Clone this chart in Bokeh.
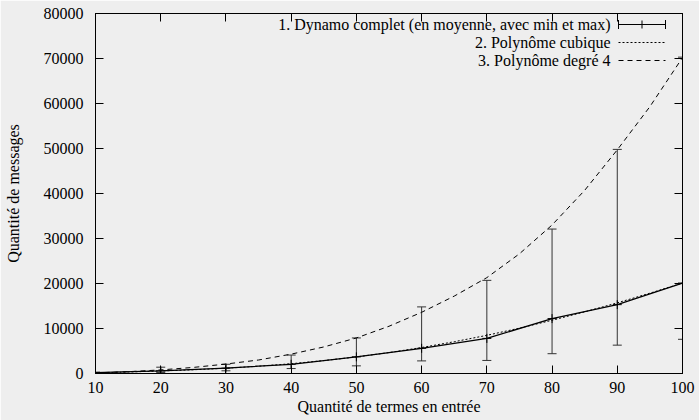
from bokeh.plotting import figure
from bokeh.models import (ColumnDataSource, Whisker, TeeHead, LinearAxis, Range1d,
                          FixedTicker, Label, Arrow, CustomLabelingPolicy)
from bokeh.embed import file_html
from bokeh.resources import INLINE

# ---- data ----
terms = [10, 20, 30, 40, 50, 60, 70, 80, 90, 100]
mean_msgs = [200, 600, 1200, 2050, 3700, 5600, 7800, 12200, 15300, 20100]
min_msgs = [100, 200, 600, 1100, 1700, 2800, 2900, 4400, 6300, 7600]
max_msgs = [300, 1400, 2050, 4100, 7900, 14800, 20700, 32100, 49800, 70300]

fit_x = [10, 15, 20, 25, 30, 35, 40, 45, 50, 55, 60, 65, 70, 75, 80, 85, 90, 95, 100]
cubic_y = [150, 330, 560, 830, 1170, 1620, 2170, 2870, 3680, 4650, 5770, 7060, 8480,
           10080, 11830, 13700, 15700, 17850, 20100]
quartic_y = [150, 400, 800, 1350, 2100, 3000, 4300, 5900, 7900, 10500, 13600, 17200,
             21300, 26600, 33000, 40700, 49700, 59300, 70200]

x_ticks = [10, 20, 30, 40, 50, 60, 70, 80, 90, 100]
y_ticks = [0, 10000, 20000, 30000, 40000, 50000, 60000, 70000, 80000]

legend_labels = ["1. Dynamo complet (en moyenne, avec min et max)",
                 "2. Polynôme cubique",
                 "3. Polynôme degré 4"]

FONT = "Liberation Serif"
FS = "16px"
BG = "#eeeeee"

p = figure(width=699, height=420, output_backend="svg", toolbar_location=None,
           x_range=Range1d(10, 100), y_range=Range1d(0, 80000),
           min_border_left=95, min_border_right=17, min_border_top=13, min_border_bottom=47,
           background_fill_color=BG, border_fill_color=BG)
p.grid.visible = False
p.outline_line_color = "black"
p.outline_line_width = 1

src = ColumnDataSource(dict(x=terms, m=mean_msgs, lo=min_msgs, hi=max_msgs))

# fitted curves
p.line(fit_x, cubic_y, line_color="black", line_width=1, line_dash="2 2")
p.line(fit_x, quartic_y, line_color="black", line_width=1, line_dash="5 4")

# error bars
w = Whisker(source=src, base="x", upper="hi", lower="lo", dimension="height",
            line_color="#333333", line_width=1,
            upper_head=TeeHead(size=9, line_color="#333333", line_width=1),
            lower_head=TeeHead(size=9, line_color="#333333", line_width=1))
p.add_layout(w)

# mean line + markers
p.line("x", "m", source=src, line_color="black", line_width=1.3)
p.scatter("x", "m", source=src, marker="cross", size=9, line_color="black", line_width=1)

# axes styling
def style_axis(ax, ticks, labels=True):
    ax.ticker = FixedTicker(ticks=ticks)
    ax.minor_tick_line_color = None
    ax.major_tick_in = 8
    ax.major_tick_out = 0
    ax.major_tick_line_color = "black"
    ax.axis_line_color = "black"
    if labels:
        ax.major_label_text_font = FONT
        ax.major_label_text_font_size = FS
        ax.major_label_text_color = "black"
        ax.axis_label_text_font = FONT
        ax.axis_label_text_font_size = FS
        ax.axis_label_text_font_style = "normal"
        ax.axis_label_text_color = "black"
    else:
        ax.major_label_text_font_size = "1px"
        ax.major_label_standoff = 0
        ax.major_label_policy = CustomLabelingPolicy(
            code="for (const i of indices) indices.unset(i); return indices")

xa = p.xaxis[0]
ya = p.yaxis[0]
style_axis(xa, x_ticks)
style_axis(ya, y_ticks)
xa.axis_label = "Quantité de termes en entrée"
ya.axis_label = "Quantité de messages"
xa.major_label_standoff = 8
xa.axis_label_standoff = 2
ya.major_label_standoff = 12
ya.axis_label_standoff = 19
ya.major_label_orientation = "horizontal"

top_ax = LinearAxis()
right_ax = LinearAxis()
style_axis(top_ax, x_ticks, labels=False)
style_axis(right_ax, y_ticks, labels=False)
p.add_layout(top_ax, "above")
p.add_layout(right_ax, "right")

# manual legend (gnuplot style: text right-aligned, sample on the right)
row_y = [349, 331, 313]   # screen units from frame bottom
text_right = 515
s0, s1 = 523, 570
for lab, yy in zip(legend_labels, row_y):
    p.add_layout(Label(x=text_right, y=yy, x_units="screen", y_units="screen",
                       text=lab, text_align="right", text_baseline="middle",
                       text_font=FONT, text_font_size=FS, text_color="black"))

p.add_layout(Arrow(x_start=s0, y_start=row_y[0], x_end=s1, y_end=row_y[0],
                   start_units="screen", end_units="screen",
                   start=TeeHead(size=9, line_color="black", line_width=1),
                   end=TeeHead(size=9, line_color="black", line_width=1),
                   line_color="black", line_width=1))
mid = (s0 + s1) / 2
p.add_layout(Arrow(x_start=mid, y_start=row_y[0] - 4, x_end=mid, y_end=row_y[0] + 4,
                   start_units="screen", end_units="screen", end=None,
                   line_color="black", line_width=1))
p.add_layout(Arrow(x_start=s0, y_start=row_y[1], x_end=s1, y_end=row_y[1],
                   start_units="screen", end_units="screen", end=None,
                   line_color="black", line_width=1, line_dash="2 2"))
p.add_layout(Arrow(x_start=s0, y_start=row_y[2], x_end=s1, y_end=row_y[2],
                   start_units="screen", end_units="screen", end=None,
                   line_color="black", line_width=1, line_dash="5 4"))

open("out.html", "w").write(file_html(p, INLINE))
